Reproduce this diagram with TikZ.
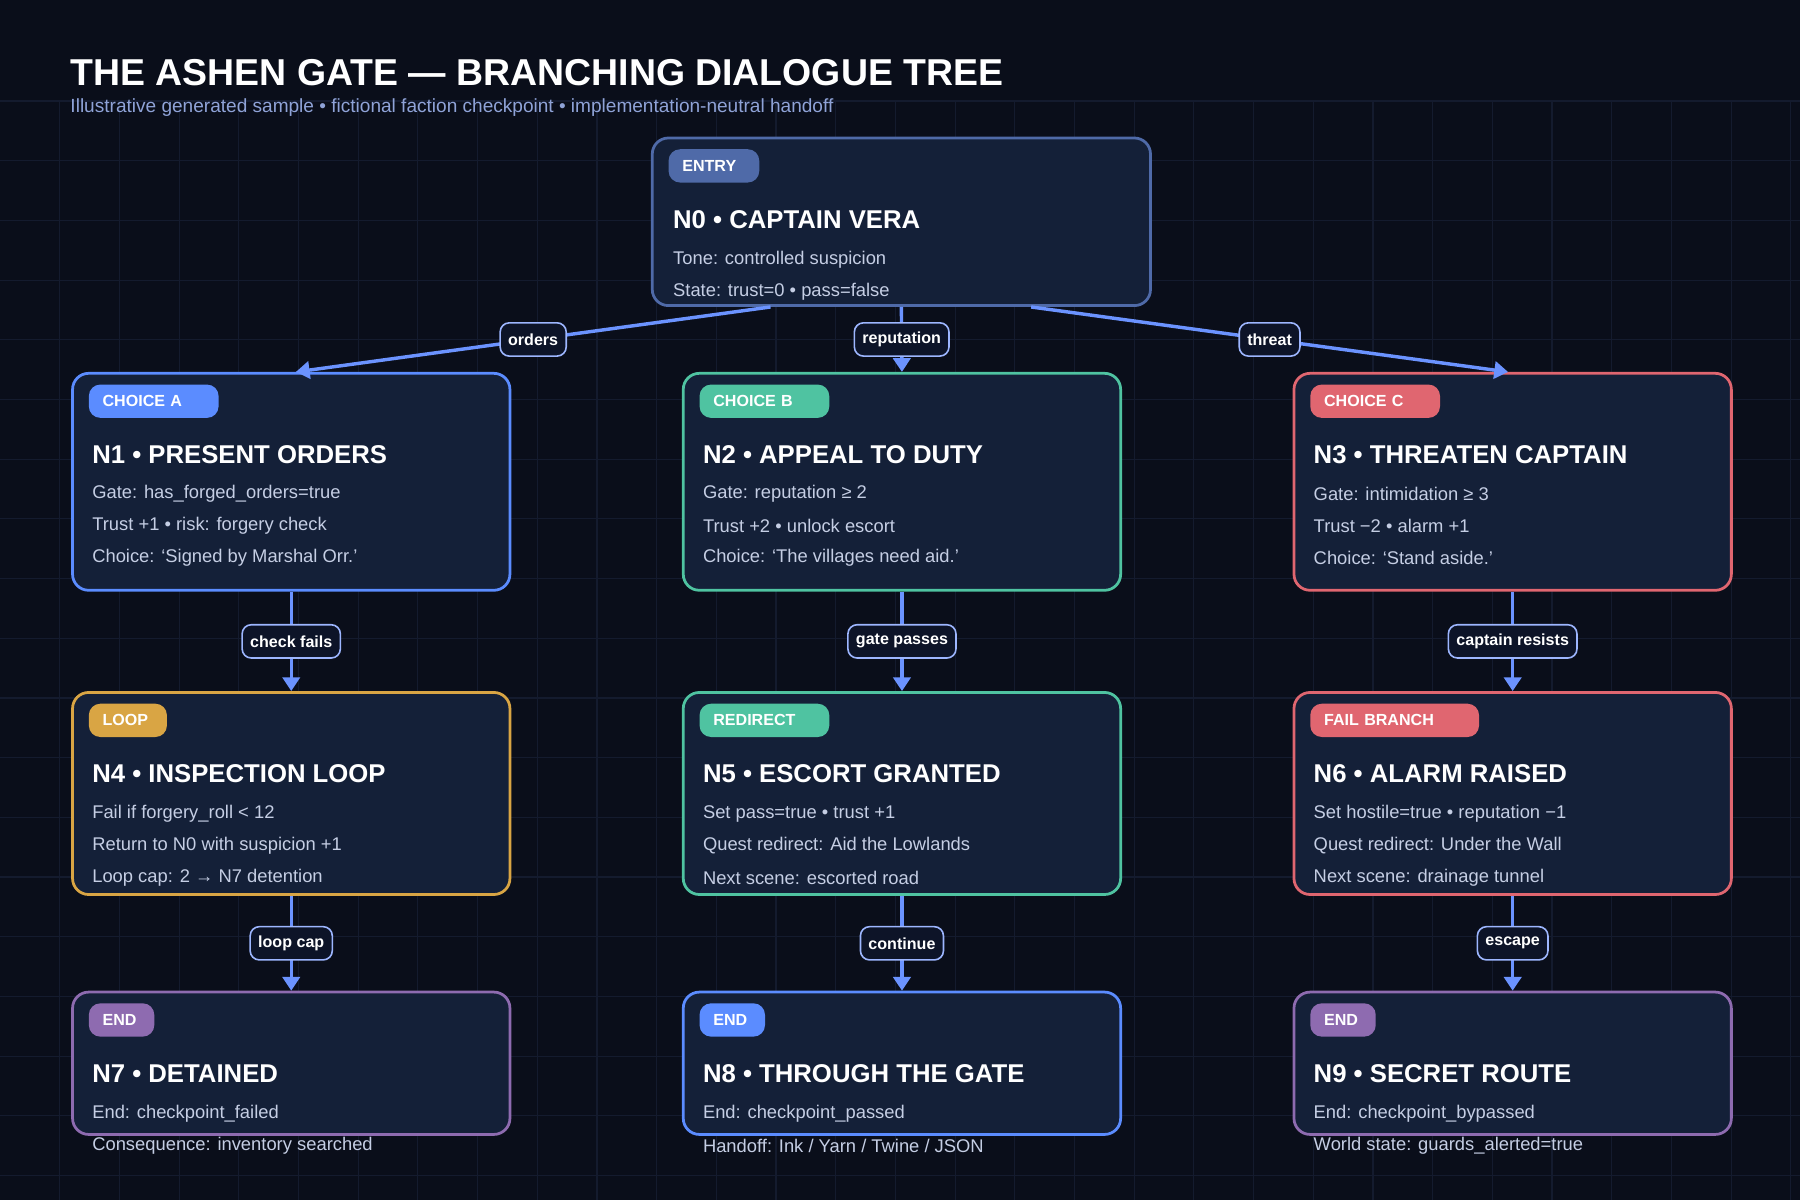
\documentclass[tikz,border=0pt]{standalone}
\usepackage{fontspec}
\setmainfont{Liberation Sans}
\usetikzlibrary{arrows.meta,calc}
\definecolor{bg}{HTML}{0A0E1A}
\definecolor{gridc}{HTML}{141B2E}
\definecolor{nfill}{HTML}{142038}
\definecolor{cEntry}{HTML}{4F6AA8}
\definecolor{cBlue}{HTML}{5B8CFF}
\definecolor{cGreen}{HTML}{4FC3A1}
\definecolor{cRed}{HTML}{E06670}
\definecolor{cYellow}{HTML}{D9A544}
\definecolor{cPurple}{HTML}{8E6BB0}
\definecolor{edgec}{HTML}{6B93FF}
\definecolor{bodyc}{HTML}{C5CEE4}
\definecolor{subc}{HTML}{8FA3D8}
\definecolor{lblfill}{HTML}{0D1428}
\definecolor{lbldraw}{HTML}{9DB6FF}
\tikzset{
 box/.style={rectangle,rounded corners=7pt,fill=nfill,line width=1.2pt,inner sep=0pt},
 badge/.style={rectangle,rounded corners=5pt,text=white,font=\bfseries\fontsize{7}{8}\selectfont,minimum height=14.5pt,inner sep=0pt,anchor=west},
 ttl/.style={text=white,font=\bfseries\fontsize{11.2}{13}\selectfont,anchor=west,inner sep=0pt},
 body/.style={text=bodyc,font=\fontsize{8}{10}\selectfont,anchor=west,inner sep=0pt},
 edge/.style={draw=edgec,line width=1.5pt,-{Triangle[length=6pt,width=7.5pt]}},
 lbl/.style={fill=lblfill,draw=lbldraw,line width=0.7pt,rounded corners=4pt,text=white,font=\bfseries\fontsize{7}{8}\selectfont,inner xsep=3.5pt,minimum height=14.5pt,inner ysep=0pt}
}
\newcommand{\dbox}[9]{%
 \node[box,draw=#6,minimum width=#4*0.5pt,minimum height=#5*0.5pt,anchor=north west] (#1) at (#2,#3) {};
 \node[badge,fill=#6,minimum width=#8*0.5pt,text width=#8*0.5pt-12pt,align=left,inner xsep=6pt] at (#2+15,#3+25.5) {#7};
 \node[ttl] at (#2+18,#3+72) {#9};}
\newcommand{\bline}[3]{\node[body] at (#1,#2) {#3};}
\begin{document}
\begin{tikzpicture}[x=0.5pt,y=-0.5pt]
\fill[bg] (0,0) rectangle (1568,1045);
\useasboundingbox (0,0) rectangle (1568,1045);
\foreach \i in {1,...,30} \draw[gridc,line width=0.5pt] (\i*52,88) -- (\i*52,1045);
\foreach \j in {0,...,18} \draw[gridc,line width=0.5pt] (0,88+\j*52) -- (1568,88+\j*52);
\node[anchor=west,inner sep=0pt,text=white,font=\bfseries\fontsize{16.3}{18}\selectfont] (title) at (61,63) {THE ASHEN GATE — BRANCHING DIALOGUE TREE};
\node[anchor=west,inner sep=0pt,text=subc,font=\fontsize{8.3}{10}\selectfont] (sub) at (61,94) {Illustrative generated sample • fictional faction checkpoint • implementation-neutral handoff};
% N0
\node[box,draw=cEntry,minimum width=217pt,minimum height=73pt,anchor=north west] (n0) at (567,119) {};
\node[badge,fill=cEntry,minimum width=39.5pt,text width=27.5pt,inner xsep=6pt,align=left] at (582,144.5) {ENTRY};
\node[ttl] at (586,191) {N0 • CAPTAIN VERA};
\bline{586}{226}{Tone: controlled suspicion}
\bline{586}{254}{State: trust=0 • pass=false}
% Row 1
\dbox{n1}{62}{324}{381}{189}{cBlue}{CHOICE A}{113}{N1 • PRESENT ORDERS}
\bline{80}{430}{Gate: has\_forged\_orders=true}
\bline{80}{458}{Trust +1 • risk: forgery check}
\bline{80}{486}{Choice: ‘Signed by Marshal Orr.’}
\dbox{n2}{594}{324}{381}{189}{cGreen}{CHOICE B}{113}{N2 • APPEAL TO DUTY}
\bline{612}{430}{Gate: reputation ≥ 2}
\bline{612}{458}{Trust +2 • unlock escort}
\bline{612}{486}{Choice: ‘The villages need aid.’}
\dbox{n3}{1126}{324}{381}{189}{cRed}{CHOICE C}{113}{N3 • THREATEN CAPTAIN}
\bline{1144}{430}{Gate: intimidation ≥ 3}
\bline{1144}{458}{Trust −2 • alarm +1}
\bline{1144}{486}{Choice: ‘Stand aside.’}
% Row 2
\dbox{n4}{62}{602}{381}{176}{cYellow}{LOOP}{68}{N4 • INSPECTION LOOP}
\bline{80}{709}{Fail if forgery\_roll < 12}
\bline{80}{737}{Return to N0 with suspicion +1}
\bline{80}{765}{Loop cap: 2 → N7 detention}
\dbox{n5}{594}{602}{381}{176}{cGreen}{REDIRECT}{113}{N5 • ESCORT GRANTED}
\bline{612}{709}{Set pass=true • trust +1}
\bline{612}{737}{Quest redirect: Aid the Lowlands}
\bline{612}{765}{Next scene: escorted road}
\dbox{n6}{1126}{602}{381}{176}{cRed}{FAIL BRANCH}{147}{N6 • ALARM RAISED}
\bline{1144}{709}{Set hostile=true • reputation −1}
\bline{1144}{737}{Quest redirect: Under the Wall}
\bline{1144}{765}{Next scene: drainage tunnel}
% Row 3
\dbox{n7}{62}{863}{381}{124}{cPurple}{END}{57}{N7 • DETAINED}
\bline{80}{970}{End: checkpoint\_failed}
\bline{80}{998}{Consequence: inventory searched}
\dbox{n8}{594}{863}{381}{124}{cBlue}{END}{57}{N8 • THROUGH THE GATE}
\bline{612}{970}{End: checkpoint\_passed}
\bline{612}{998}{Handoff: Ink / Yarn / Twine / JSON}
\dbox{n9}{1126}{863}{381}{124}{cPurple}{END}{57}{N9 • SECRET ROUTE}
\bline{1144}{970}{End: checkpoint\_bypassed}
\bline{1144}{998}{World state: guards\_alerted=true}
% Edges
\draw[edge] ($(n0.south)+(-114,0)$) -- ($(n1.north)+(4,0)$) node[midway,lbl] {orders};
\draw[edge] (n0.south) -- (n2.north) node[midway,lbl] {reputation};
\draw[edge] ($(n0.south)+(113,0)$) -- ($(n3.north)+(-4,0)$) node[midway,lbl] {threat};
\draw[edge] (n1.south) -- (n4.north) node[midway,lbl] {check fails};
\draw[edge] (n2.south) -- (n5.north) node[midway,lbl] {gate passes};
\draw[edge] (n3.south) -- (n6.north) node[midway,lbl] {captain resists};
\draw[edge] (n4.south) -- (n7.north) node[midway,lbl] {loop cap};
\draw[edge] (n5.south) -- (n8.north) node[midway,lbl] {continue};
\draw[edge] (n6.south) -- (n9.north) node[midway,lbl] {escape};
\end{tikzpicture}
\end{document}
